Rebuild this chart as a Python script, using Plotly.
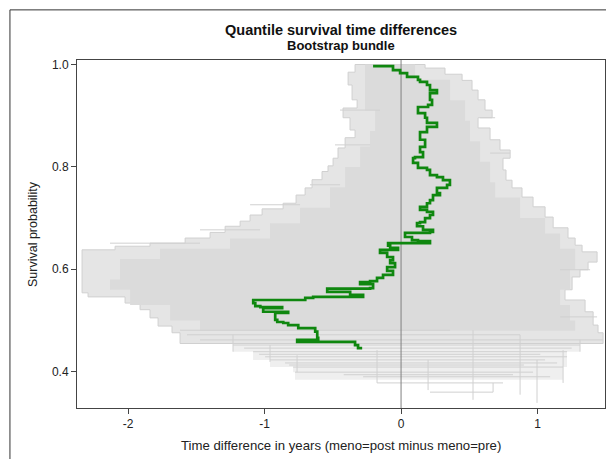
import plotly.graph_objects as go

# ---------------- data ----------------
# observed quantile-difference curve (survival probability vs time difference)
green_prob = [0.997, 0.997, 0.989, 0.983, 0.976, 0.970, 0.966, 0.960, 0.950, 0.944,
              0.931, 0.921, 0.917, 0.905, 0.896, 0.886, 0.878, 0.868, 0.853, 0.839,
              0.829, 0.819, 0.817, 0.808, 0.798, 0.794, 0.784, 0.780, 0.774, 0.765,
              0.759, 0.749, 0.745, 0.735, 0.729, 0.722, 0.716, 0.712, 0.706, 0.700,
              0.692, 0.690, 0.684, 0.677, 0.673, 0.671, 0.663, 0.657, 0.655, 0.651,
              0.646, 0.642, 0.638, 0.632, 0.624, 0.618, 0.612, 0.604, 0.597, 0.589,
              0.583, 0.577, 0.575, 0.571, 0.563, 0.562, 0.556, 0.550, 0.546, 0.544,
              0.540, 0.534, 0.528, 0.526, 0.524, 0.517, 0.515, 0.501, 0.497, 0.495,
              0.491, 0.485, 0.485, 0.478, 0.466, 0.462, 0.458, 0.452, 0.446]
green_diff = [-0.205, -0.059, -0.007, 0.044, 0.124, 0.139, 0.190, 0.212, 0.263, 0.212,
              0.227, 0.198, 0.124, 0.176, 0.190, 0.263, 0.190, 0.139, 0.176, 0.139,
              0.161, 0.102, 0.088, 0.124, 0.190, 0.212, 0.263, 0.307, 0.358, 0.337,
              0.263, 0.285, 0.234, 0.212, 0.190, 0.139, 0.190, 0.234, 0.212, 0.176,
              0.139, 0.117, 0.161, 0.234, 0.212, 0.029, 0.080, 0.124, 0.212, -0.095,
              -0.080, -0.022, -0.154, -0.102, -0.059, -0.080, -0.044, -0.102, -0.059, -0.132,
              -0.176, -0.227, -0.300, -0.205, -0.227, -0.541, -0.373, -0.278, -0.644, -0.702,
              -1.083, -1.068, -1.031, -0.871, -1.010, -0.827, -0.922, -0.907, -0.863, -0.827,
              -0.753, -0.724, -0.629, -0.614, -0.607, -0.761, -0.337, -0.315, -0.285]

# outer envelope of the bootstrap bundle
env_left_prob = [1.000, 0.985, 0.960, 0.931, 0.915, 0.896, 0.872, 0.857, 0.837, 0.817,
                 0.802, 0.791, 0.775, 0.759, 0.745, 0.729, 0.718, 0.706, 0.694, 0.684,
                 0.672, 0.661, 0.651, 0.645, 0.638, 0.554, 0.546, 0.534, 0.521, 0.505,
                 0.489, 0.476, 0.455]
env_left_diff = [-0.337, -0.388, -0.359, -0.322, -0.425, -0.374, -0.337, -0.410, -0.462, -0.498,
                 -0.535, -0.579, -0.652, -0.703, -0.769, -0.864, -1.018, -1.106, -1.179, -1.289,
                 -1.399, -1.582, -1.839, -2.095, -2.337, -2.293, -2.022, -1.912, -1.839, -1.780,
                 -1.678, -1.619, -1.231]
env_right_prob = [1.000, 0.993, 0.981, 0.969, 0.950, 0.931, 0.911, 0.896, 0.876, 0.853,
                  0.833, 0.817, 0.794, 0.774, 0.759, 0.741, 0.722, 0.702, 0.681, 0.661,
                  0.647, 0.634, 0.614, 0.599, 0.585, 0.560, 0.540, 0.517, 0.491, 0.476,
                  0.455]
env_right_diff = [0.176, 0.322, 0.447, 0.520, 0.564, 0.615, 0.667, 0.564, 0.652, 0.725,
                  0.799, 0.747, 0.769, 0.813, 0.886, 0.967, 1.055, 1.114, 1.223, 1.275,
                  1.326, 1.436, 1.370, 1.311, 1.253, 1.201, 1.348, 1.407, 1.443, 1.480,
                  1.311]

# sparse lower part of the bundle
low_left_prob = [0.455, 0.439, 0.423, 0.409, 0.399, 0.384]
low_left_diff = [-1.231, -1.084, -0.960, -0.791, -0.777, -0.447]
low_right_prob = [0.455, 0.439, 0.409, 0.384]
low_right_diff = [1.311, 1.216, 1.187, 1.092]

# dense core of the bundle
core_left_prob = [1.00, 0.95, 0.91, 0.87, 0.84, 0.80, 0.76, 0.72, 0.69, 0.66,
                  0.64, 0.62, 0.58, 0.56, 0.53, 0.50, 0.48]
core_left_diff = [-0.264, -0.264, -0.190, -0.227, -0.300, -0.410, -0.520, -0.740, -0.960, -1.253,
                  -1.766, -2.059, -2.132, -1.985, -1.692, -1.473, -1.106]
core_right_prob = [1.00, 0.97, 0.93, 0.89, 0.85, 0.81, 0.77, 0.74, 0.70, 0.67,
                   0.64, 0.60, 0.56, 0.53, 0.50, 0.48]
core_right_diff = [0.103, 0.359, 0.469, 0.505, 0.579, 0.652, 0.689, 0.872, 1.055, 1.165,
                   1.275, 1.238, 1.165, 1.238, 1.275, 1.165]

# individual bootstrap steps visible in the sparse parts of the bundle
tail_h_prob = [0.481, 0.472, 0.462, 0.452, 0.439, 0.429, 0.423, 0.417, 0.409, 0.399,
               0.390, 0.378, 0.360, 0.911, 0.843, 0.765, 0.726, 0.677, 0.651, 0.827,
               0.896, 0.599, 0.507, 0.446, 0.434, 0.413, 0.394]
tail_h_from = [-1.619, -1.568, -1.473, -1.231, -1.084, -0.996, -0.960, -0.850, -0.791, -0.777,
               -0.278, -0.176, 0.212, -0.447, -0.484, -0.667, -1.106, -1.473, -2.132, 0.652,
               0.579, 1.165, 1.165, -1.150, -1.040, -0.820, -0.420]
tail_h_to = [0.359, 0.872, 1.480, 1.311, 1.216, 1.216, 1.055, 1.143, 1.187, 0.967,
             1.092, 0.747, 0.674, -0.154, -0.227, -0.447, -0.740, -1.033, -1.473, 0.799,
             0.689, 1.385, 1.436, 1.250, 1.020, 0.900, 0.820]
tail_v_diff = [0.527, 0.996, 0.198, -0.176, -0.762, -0.960, 1.187, 0.872, 0.674, 1.311, -1.231]
tail_v_top = [0.481, 0.423, 0.423, 0.442, 0.432, 0.452, 0.442, 0.472, 0.378, 0.462, 0.472]
tail_v_bot = [0.345, 0.339, 0.364, 0.378, 0.399, 0.419, 0.378, 0.355, 0.360, 0.439, 0.439]

x_ticks = [-2, -1, 0, 1]
x_tick_text = ["-2", "-1", "0", "1"]
y_ticks = [0.4, 0.6, 0.8, 1.0]
y_tick_text = ["0.4", "0.6", "0.8", "1.0"]

title_text = "Quantile survival time differences"
subtitle_text = "Bootstrap bundle"
x_title = "Time difference in years (meno=post minus meno=pre)"
y_title = "Survival probability"


def vh_path(xs, ys):
    px, py = [xs[0]], [ys[0]]
    for i in range(1, len(xs)):
        px += [xs[i - 1], xs[i]]
        py += [ys[i], ys[i]]
    return px, py


def polygon(lx, ly, rx, ry):
    ax, ay = vh_path(lx, ly)
    bx, by = vh_path(rx, ry)
    return ax + bx[::-1] + [ax[0]], ay + by[::-1] + [ay[0]]


GREY_LINE = "#d0d0d0"
fig = go.Figure()

lx, ly = polygon(low_left_diff, low_left_prob, low_right_diff, low_right_prob)
fig.add_trace(go.Scatter(x=lx, y=ly, mode="lines", fill="toself", fillcolor="#efefef",
                         line=dict(color="rgba(0,0,0,0)", width=0), hoverinfo="skip"))
ex, ey = polygon(env_left_diff, env_left_prob, env_right_diff, env_right_prob)
fig.add_trace(go.Scatter(x=ex, y=ey, mode="lines", fill="toself", fillcolor="#e5e5e5",
                         line=dict(color=GREY_LINE, width=1), hoverinfo="skip"))
cx, cy = polygon(core_left_diff, core_left_prob, core_right_diff, core_right_prob)
fig.add_trace(go.Scatter(x=cx, y=cy, mode="lines", fill="toself", fillcolor="#dbdbdb",
                         line=dict(color="rgba(0,0,0,0)", width=0), hoverinfo="skip"))

hx, hy = [], []
for p, a, b in zip(tail_h_prob, tail_h_from, tail_h_to):
    hx += [a, b, None]
    hy += [p, p, None]
for d, t, b in zip(tail_v_diff, tail_v_top, tail_v_bot):
    hx += [d, d, None]
    hy += [t, b, None]
fig.add_trace(go.Scatter(x=hx, y=hy, mode="lines", line=dict(color=GREY_LINE, width=1),
                         hoverinfo="skip"))

# reference line at zero difference
fig.add_trace(go.Scatter(x=[0, 0], y=[0.0, 1.2], mode="lines",
                         line=dict(color="#808080", width=1), hoverinfo="skip"))

fig.add_trace(go.Scatter(x=green_diff, y=green_prob, mode="lines", line_shape="vh",
                         line=dict(color="#0f870f", width=2.7), hoverinfo="skip"))

FONT = "Liberation Sans, Arial, sans-serif"
AX = "#444444"
fig.update_layout(
    width=606, height=459,
    margin=dict(l=77, r=1, t=60, b=51),
    paper_bgcolor="white", plot_bgcolor="white",
    showlegend=False,
    font=dict(family=FONT, color="#222222", size=12),
    xaxis=dict(range=[-2.374, 1.494], tickvals=x_ticks, ticktext=x_tick_text,
               showgrid=False, zeroline=False, showline=True, mirror=True,
               linecolor=AX, linewidth=1, ticks="outside", ticklen=5, tickcolor=AX,
               tickfont=dict(size=12, color="#222222")),
    yaxis=dict(range=[0.329, 1.0088], tickvals=y_ticks, ticktext=y_tick_text,
               showgrid=False, zeroline=False, showline=True, mirror=True,
               linecolor=AX, linewidth=1, ticks="outside", ticklen=5, tickcolor=AX,
               tickfont=dict(size=12, color="#222222")),
    shapes=[dict(type="rect", xref="paper", yref="paper", x0=-0.127, x1=1.3,
                 y0=-0.5, y1=1.144, line=dict(color="#333333", width=1),
                 fillcolor="rgba(0,0,0,0)", layer="below")],
    annotations=[
        dict(text="<b>" + title_text + "</b>", xref="paper", yref="paper", x=0.5, y=1.0862,
             showarrow=False, xanchor="center", yanchor="middle",
             font=dict(size=14.5, color="#111111", family=FONT)),
        dict(text="<b>" + subtitle_text + "</b>", xref="paper", yref="paper", x=0.5, y=1.0431,
             showarrow=False, xanchor="center", yanchor="middle",
             font=dict(size=13, color="#111111", family=FONT)),
        dict(text=x_title, xref="paper", yref="paper", x=0.5, y=-0.109,
             showarrow=False, xanchor="center", yanchor="middle",
             font=dict(size=13.2, color="#222222", family=FONT)),
        dict(text=y_title, xref="paper", yref="paper", x=-0.0833, y=0.5, textangle=-90,
             showarrow=False, xanchor="center", yanchor="middle",
             font=dict(size=12.5, color="#222222", family=FONT)),
    ],
)

fig.write_html("out.html", config={"displayModeBar": False},
               post_script="document.body.style.margin='0px';document.body.style.overflow='hidden';")
